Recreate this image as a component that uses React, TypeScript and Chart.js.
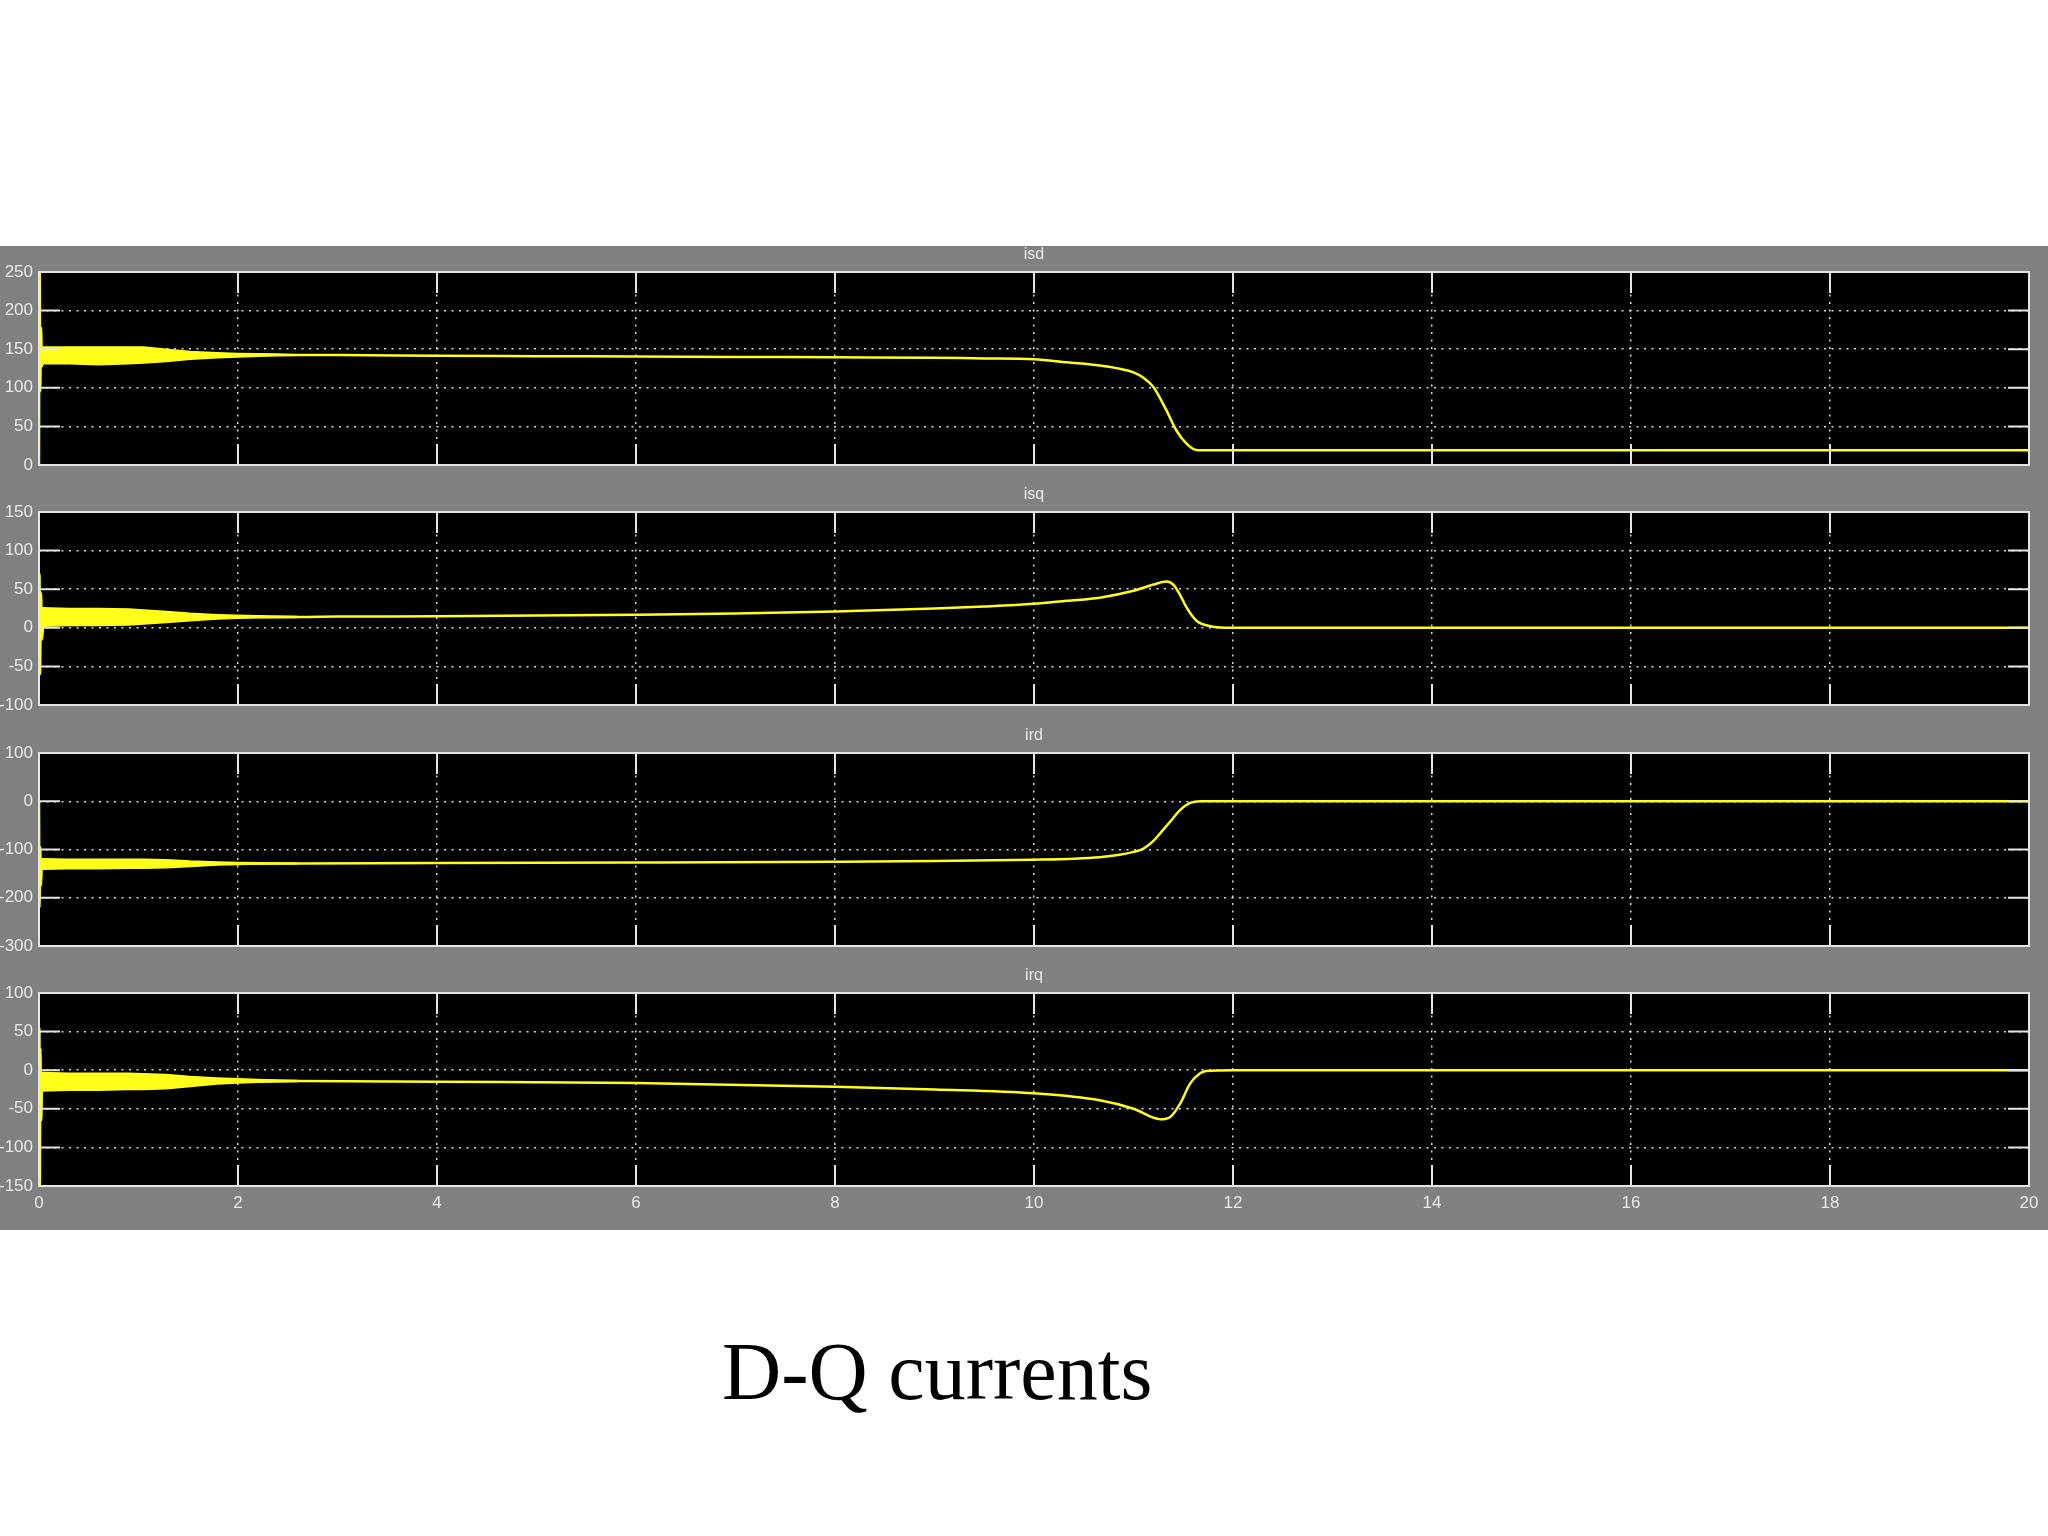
import React, { useEffect, useRef } from "react";
import { Chart, registerables } from "chart.js";

Chart.register(...registerables);

// ---------- shared ----------
const X_TICKS = [0, 2, 4, 6, 8, 10, 12, 14, 16, 18, 20];
const BAND_T = [0.03, 0.3, 0.6, 0.9, 1.05, 1.28, 1.52, 1.79, 2.0, 2.2, 2.6];

// ---------- isd ----------
const ISD_T = [0, 0.005, 0.012, 0.02, 0.03, 0.05, 2.2, 2.6, 3, 4, 5, 6, 7, 8, 9, 9.5, 10, 10.33, 10.66, 10.83, 11.0, 11.1, 11.2, 11.33, 11.43, 11.53, 11.63, 11.75, 12, 14, 16, 18, 20];
const ISD_V = [0, 300, 95, 178, 128, 142, 143, 142.5, 142.5, 141.5, 141, 140.5, 140, 139.5, 139, 138, 137, 133, 129, 125.5, 120, 113, 101, 71, 45, 28, 19.5, 19, 19, 19, 19, 19, 19];
const ISD_UP = [153, 153, 153, 153, 153, 150, 147, 145.5, 144.5, 144, 142.8];
const ISD_LO = [131, 131, 130, 131, 132, 134, 137, 139, 140, 141, 142.2];

// ---------- isq ----------
const ISQ_T = [0, 0.005, 0.01, 0.02, 0.03, 0.05, 2.6, 3, 4, 5, 6, 7, 8, 9, 9.5, 10, 10.33, 10.66, 11.0, 11.2, 11.33, 11.4, 11.47, 11.53, 11.63, 11.77, 12, 14, 16, 18, 20];
const ISQ_V = [0, 70, -60, 45, -15, 14, 14, 14.5, 15, 16, 17, 18.5, 21, 25, 27.5, 31, 35, 39, 48, 56, 60, 56, 42, 27, 9.5, 2, 0, 0, 0, 0, 0];
const ISQ_UP = [26, 25, 25, 24.5, 23, 21, 18.7, 17, 16.2, 15.5, 14.5];
const ISQ_LO = [2, 3, 3, 3.5, 5, 7, 9.2, 11.5, 12.5, 13, 13.5];

// ---------- ird ----------
const IRD_T = [0, 0.005, 0.012, 0.02, 0.03, 0.05, 2.6, 4, 6, 8, 9, 10, 10.4, 10.66, 10.86, 11.0, 11.1, 11.2, 11.27, 11.37, 11.47, 11.57, 11.67, 12, 14, 16, 18, 20];
const IRD_V = [0, -220, -95, -175, -120, -130, -129, -128, -127, -125.5, -124, -121, -119, -116, -111, -105, -98, -82, -66, -42, -18, -3.5, 0, 0, 0, 0, 0, 0];
const IRD_UP = [-119, -120, -120, -120, -120, -121, -124, -126, -127, -127.5, -128.5];
const IRD_LO = [-141, -140, -140, -139, -139, -138, -135, -132, -131, -130, -129.5];

// ---------- irq ----------
const IRQ_T = [0, 0.004, 0.008, 0.014, 0.022, 0.032, 0.05, 2.6, 4, 6, 8, 9, 10, 10.66, 11.0, 11.27, 11.37, 11.47, 11.57, 11.67, 11.73, 12, 14, 16, 18, 20];
const IRQ_V = [0, 55, -150, 28, -65, -5, -15, -14, -15, -16.5, -21.5, -25, -30, -39, -50, -63.5, -60.5, -43, -17, -4, -1, 0, 0, 0, 0, 0];
const IRQ_UP = [-3, -4, -4, -4, -4.5, -5.5, -8, -10, -11, -12, -13.5];
const IRQ_LO = [-27, -26, -26, -25, -25, -24, -21, -18, -16.5, -15.5, -14.5];

const PANELS = [
  { title: "isd", t: ISD_T, v: ISD_V, up: ISD_UP, lo: ISD_LO, min: 0, max: 250, step: 50 },
  { title: "isq", t: ISQ_T, v: ISQ_V, up: ISQ_UP, lo: ISQ_LO, min: -100, max: 150, step: 50 },
  { title: "ird", t: IRD_T, v: IRD_V, up: IRD_UP, lo: IRD_LO, min: -300, max: 100, step: 100 },
  { title: "irq", t: IRQ_T, v: IRQ_V, up: IRQ_UP, lo: IRQ_LO, min: -150, max: 100, step: 50 },
];

const PLOT_TOPS = [272, 512, 753, 993];
const PLOT_H = 193;
const PLOT_LEFT = 39;
const PLOT_RIGHT = 2029;
const YELLOW = "#ffff1a";
const FRAME = "#e4e4e4";
const LABEL = "#e8e8e8";

function makeFramePlugin(title: string) {
  return {
    id: "matlabFrame" + title,
    beforeDraw(chart: any) {
      const { ctx, chartArea } = chart;
      ctx.save();
      ctx.fillStyle = "#000000";
      ctx.fillRect(chartArea.left, chartArea.top, chartArea.right - chartArea.left, chartArea.bottom - chartArea.top);
      ctx.restore();
    },
    afterDraw(chart: any) {
      const { ctx, chartArea } = chart;
      const { left, right, top, bottom } = chartArea;
      const xs = chart.scales.x;
      const ys = chart.scales.y;
      ctx.save();
      ctx.strokeStyle = FRAME;
      ctx.lineWidth = 2;
      ctx.beginPath();
      const tl = 21;
      xs.ticks.forEach((tk: any) => {
        const px = xs.getPixelForValue(tk.value);
        if (px <= left + 1 || px >= right - 1) return;
        ctx.moveTo(px, bottom);
        ctx.lineTo(px, bottom - tl);
        ctx.moveTo(px, top);
        ctx.lineTo(px, top + tl);
      });
      ys.ticks.forEach((tk: any) => {
        const py = ys.getPixelForValue(tk.value);
        if (py <= top + 1 || py >= bottom - 1) return;
        ctx.moveTo(left, py);
        ctx.lineTo(left + tl, py);
        ctx.moveTo(right, py);
        ctx.lineTo(right - tl, py);
      });
      ctx.stroke();
      ctx.strokeRect(left, top, right - left, bottom - top);
      ctx.fillStyle = LABEL;
      ctx.font = "16px 'Liberation Sans', Arial, sans-serif";
      ctx.textAlign = "center";
      ctx.textBaseline = "middle";
      ctx.fillText(title, (left + right) / 2, top - 17);
      ctx.restore();
    },
  };
}

function Panel({ idx }: { idx: number }) {
  const ref = useRef<HTMLCanvasElement>(null);
  const p = PANELS[idx];
  const last = idx === PANELS.length - 1;
  const canvasTop = PLOT_TOPS[idx] - 26;
  const canvasH = last ? 1230 - canvasTop : 240;
  useEffect(() => {
    const upper = BAND_T.map((t, i) => ({ x: t, y: p.up[i] }));
    const lower = BAND_T.map((t, i) => ({ x: t, y: p.lo[i] }));
    const main = p.t.map((t, i) => ({ x: t, y: p.v[i] }));
    const chart = new Chart(ref.current as HTMLCanvasElement, {
      type: "line",
      data: {
        datasets: [
          {
            data: upper,
            borderColor: YELLOW,
            backgroundColor: YELLOW,
            borderWidth: 1.5,
            pointRadius: 0,
            fill: "+1",
            clip: 0,
          },
          {
            data: lower,
            borderColor: YELLOW,
            borderWidth: 1.5,
            pointRadius: 0,
            fill: false,
            clip: 0,
          },
          {
            data: main,
            borderColor: YELLOW,
            borderWidth: 2.5,
            pointRadius: 0,
            fill: false,
            cubicInterpolationMode: "monotone",
            clip: 0,
          },
        ],
      } as any,
      options: {
        animation: false,
        responsive: false,
        devicePixelRatio: 1,
        layout: {
          padding: { top: 26, right: 2048 - PLOT_RIGHT, left: 0, bottom: last ? 0 : canvasH - 26 - PLOT_H },
        },
        plugins: { legend: { display: false }, tooltip: { enabled: false }, title: { display: false } },
        scales: {
          x: {
            type: "linear",
            min: 0,
            max: 20,
            afterBuildTicks: (scale: any) => {
              scale.ticks = X_TICKS.map((v) => ({ value: v }));
            },
            afterFit: (scale: any) => {
              scale.height = last ? canvasH - 26 - PLOT_H : 0;
            },
            ticks: {
              display: last,
              color: LABEL,
              padding: 7,
              maxRotation: 0,
              autoSkip: false,
              font: { family: "'Liberation Sans', Arial, sans-serif", size: 17 },
            },
            grid: { color: "rgba(255,255,255,0.85)", lineWidth: 1.5, drawTicks: false },
            border: { display: false, dash: [2, 5.5] },
          },
          y: {
            type: "linear",
            min: p.min,
            max: p.max,
            afterFit: (scale: any) => {
              scale.width = PLOT_LEFT;
            },
            ticks: {
              stepSize: p.step,
              color: LABEL,
              padding: 6,
              autoSkip: false,
              font: { family: "'Liberation Sans', Arial, sans-serif", size: 17 },
            },
            grid: { color: "rgba(255,255,255,0.85)", lineWidth: 1.5, drawTicks: false },
            border: { display: false, dash: [2, 5.5] },
          },
        },
      } as any,
      plugins: [makeFramePlugin(p.title)],
    });
    return () => chart.destroy();
  }, []);
  return (
    <canvas
      ref={ref}
      width={2048}
      height={canvasH}
      style={{ position: "absolute", left: 0, top: canvasTop, width: 2048, height: canvasH, display: "block" }}
    />
  );
}

export default function App() {
  return (
    <div style={{ position: "absolute", left: 0, top: 0, width: 2048, height: 1536, background: "#ffffff", overflow: "hidden" }}>
      <div style={{ position: "absolute", left: 0, top: 246, width: 2048, height: 984, background: "#808080" }} />
      {PANELS.map((_, i) => (
        <Panel key={i} idx={i} />
      ))}
      <div
        style={{
          position: "absolute",
          left: 722,
          top: 1331,
          fontFamily: "'Liberation Serif', 'Times New Roman', serif",
          fontSize: 82,
          lineHeight: 1,
          whiteSpace: "nowrap",
          color: "#000000",
        }}
      >
        D-Q currents
      </div>
    </div>
  );
}
